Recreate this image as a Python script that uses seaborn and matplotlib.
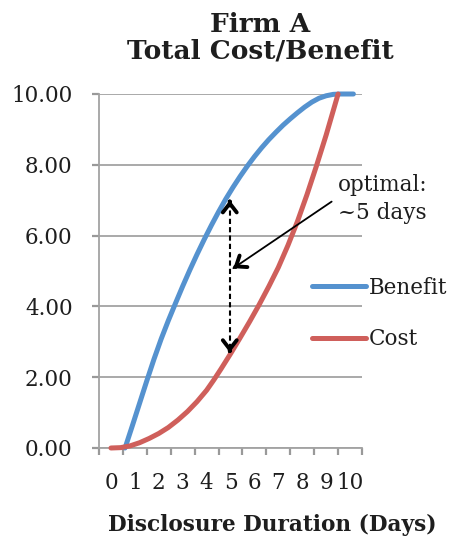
import pandas as pd
import matplotlib
matplotlib.use("Agg")
import matplotlib.pyplot as plt
import seaborn as sns

# Values (days on x, value on y)
benefit_days = [0.59, 0.9, 1.2, 1.5, 1.8, 2.1, 2.4, 2.7, 3.0, 3.3, 3.6, 3.9, 4.2, 4.5, 4.8,
                5.1, 5.4, 5.7, 6.0, 6.3, 6.6, 6.9, 7.2, 7.5, 7.8, 8.1, 8.4, 8.7, 9.0, 9.3,
                9.6, 10.14]
benefit_vals = [0.0, 0.64, 1.27, 1.9, 2.51, 3.08, 3.6, 4.09, 4.57, 5.03, 5.47, 5.89, 6.29,
                6.67, 7.03, 7.36, 7.67, 7.96, 8.23, 8.48, 8.71, 8.92, 9.12, 9.3, 9.47, 9.63,
                9.77, 9.88, 9.95, 9.99, 10.0, 10.0]
cost_days = [0.0, 0.4, 0.8, 1.2, 1.6, 2.0, 2.4, 2.8, 3.2, 3.6, 4.0, 4.3, 4.6, 5.0, 5.4, 5.8,
             6.2, 6.6, 7.0, 7.4, 7.8, 8.2, 8.6, 9.0, 9.5]
cost_vals = [0.0, 0.01, 0.06, 0.15, 0.27, 0.41, 0.58, 0.79, 1.03, 1.31, 1.63, 1.92, 2.23,
             2.66, 3.11, 3.57, 4.05, 4.56, 5.1, 5.72, 6.4, 7.16, 7.98, 8.84, 10.0]
day_ticks = [0, 1, 2, 3, 4, 5, 6, 7, 8, 9, 10]
day_labels = ["0", "1", "2", "3", "4", "5", "6", "7", "8", "9", "10"]
value_ticks = [0, 2, 4, 6, 8, 10]
value_labels = ["0.00", "2.00", "4.00", "6.00", "8.00", "10.00"]

# the "optimal" marker
optimal_day = 4.97
optimal_top = 7.0
optimal_bottom = 2.7
note_xy = (9.23, 6.96)
note_target = (5.12, 5.08)

df = pd.concat([
    pd.DataFrame({"day": benefit_days, "value": benefit_vals, "series": "Benefit"}),
    pd.DataFrame({"day": cost_days, "value": cost_vals, "series": "Cost"}),
])

sns.set_style("white")
plt.rcParams["font.family"] = ["DejaVu Serif"]

blue = "#5592cf"
red = "#cf5f5b"
grey = "#a3a3a3"
tick_grey = "#999999"
ink = "#1e1e1e"

W, H = 451, 542
fig = plt.figure(figsize=(W / 100, H / 100), dpi=100)
ax = fig.add_axes([99 / W, 1 - 448 / H, 263 / W, 354 / H])

sns.lineplot(data=df, x="day", y="value", hue="series", palette=[blue, red],
             sort=False, estimator=None, lw=3.6, legend=False, ax=ax, zorder=3)
for line in ax.lines:
    line.set_solid_capstyle("round")
    line.set_solid_joinstyle("round")
    line.set_clip_on(False)

ax.set_xlim(-0.5, 10.5)
ax.set_ylim(0, 10)
ax.set_xlabel("")
ax.set_ylabel("")

# axes / grid in Excel style
ax.set_yticks(value_ticks)
ax.set_yticklabels(value_labels)
ax.set_xticks(day_ticks)
ax.set_xticklabels(day_labels)
ax.set_xticks([d - 0.5 for d in day_ticks] + [10.5], minor=True)
ax.tick_params(axis="x", which="major", bottom=True, length=0, pad=17, labelsize=15.5,
               labelcolor=ink)
ax.tick_params(axis="x", which="minor", bottom=True, length=5, width=1.6, color=tick_grey,
               direction="out")
ax.tick_params(axis="y", which="major", left=True, length=5, width=1.6, color=tick_grey,
               direction="out", pad=14, labelsize=15.5, labelcolor=ink)
ax.grid(axis="y", color=grey, lw=1.3, zorder=0)
ax.grid(axis="x", visible=False)
for side in ["top", "right"]:
    ax.spines[side].set_visible(False)
for side in ["left", "bottom"]:
    ax.spines[side].set_color(grey)
    ax.spines[side].set_linewidth(1.3)

# dashed double arrow at ~5 days
ax.plot([optimal_day, optimal_day], [optimal_bottom + 0.1, optimal_top - 0.1],
        ls=(0, (2.5, 1.5)), color="black", lw=1.5, zorder=5)
head = dict(arrowstyle="->,head_length=0.65,head_width=0.5", lw=2.8, color="black")
ax.annotate("", xy=(optimal_day, optimal_top), xytext=(optimal_day, optimal_top - 0.05),
            arrowprops=head, zorder=6)
ax.annotate("", xy=(optimal_day, optimal_bottom), xytext=(optimal_day, optimal_bottom + 0.05),
            arrowprops=head, zorder=6)

# pointer from the note
ax.annotate("", xy=note_target, xytext=note_xy,
            arrowprops=dict(arrowstyle="-", lw=1.3, color="black", shrinkA=0, shrinkB=0),
            annotation_clip=False, zorder=6)
dx = note_xy[0] - note_target[0]
dy = note_xy[1] - note_target[1]
ax.annotate("", xy=note_target, xytext=(note_target[0] + dx * 0.02, note_target[1] + dy * 0.02),
            arrowprops=head, zorder=6)
ax.text(9.5, 7.03, "optimal:\n~5 days", ha="left", va="center", fontsize=15.5,
        color=ink, linespacing=1.35, clip_on=False)

# legend to the right
ax.legend(handles=ax.lines[:2], labels=["Benefit", "Cost"], loc="upper left",
          bbox_to_anchor=(312 / W, 1 - 277 / H), bbox_transform=fig.transFigure,
          frameon=False, fontsize=15.5, handlelength=2.5, handletextpad=0.15,
          labelspacing=1.35, borderpad=0, borderaxespad=0, labelcolor=ink)

fig.text(260 / W, 1 - 38 / H, "Firm A\nTotal Cost/Benefit", ha="center", va="center",
         fontsize=19, fontweight="bold", color=ink, linespacing=1.05)
fig.text(272 / W, 1 - 525 / H, "Disclosure Duration (Days)", ha="center", va="center",
         fontsize=15.6, fontweight="bold", color=ink)

fig.savefig("out.png", dpi=100)
